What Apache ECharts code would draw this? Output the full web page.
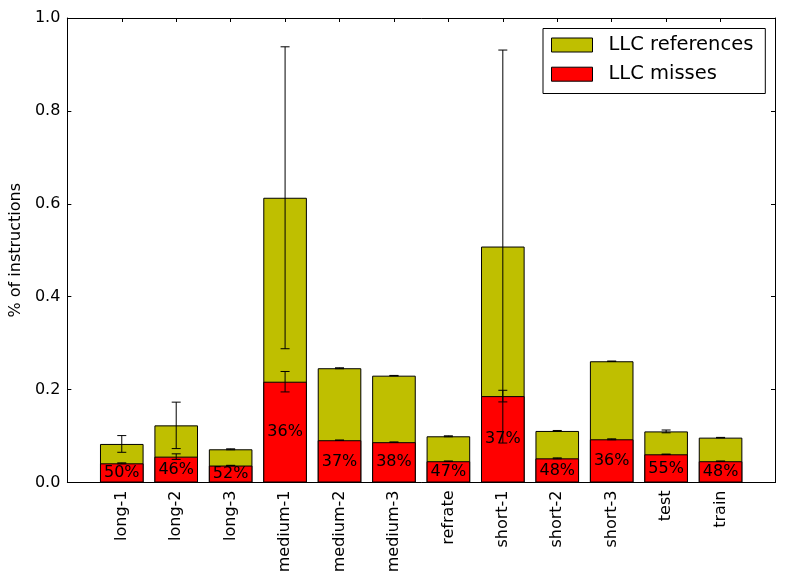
<!DOCTYPE html>
<html>
<head>
<meta charset="utf-8">
<script src="https://cdn.jsdelivr.net/npm/echarts@6/dist/echarts.min.js"></script>
<style>html,body{margin:0;padding:0;background:#fff;}#c{width:785px;height:583px;}</style>
</head>
<body>
<div id="c"></div>
<script>
const categories = ['long-1','long-2','long-3','medium-1','medium-2','medium-3','refrate','short-1','short-2','short-3','test','train'];
const refs = [0.083, 0.123, 0.0715, 0.613, 0.246, 0.230, 0.0995, 0.508, 0.111, 0.261, 0.110, 0.0966];
const refsErr = [0.018, 0.050, 0.001, 0.325, 0.001, 0.0005, 0.001, 0.423, 0.001, 0.0005, 0.003, 0.0005];
const misses = [0.0413, 0.0557, 0.0365, 0.217, 0.091, 0.0868, 0.0458, 0.186, 0.052, 0.093, 0.0607, 0.0458];
const missesErr = [0.001, 0.006, 0.0005, 0.022, 0.0005, 0.0005, 0.0005, 0.0125, 0.001, 0.001, 0.0005, 0.0005];
const pctLabels = ['50%','46%','52%','36%','37%','38%','47%','37%','48%','36%','55%','48%'];
const yTicks = [0, 0.2, 0.4, 0.6, 0.8, 1.0];

const FONT = 'DejaVu Sans';
const chart = echarts.init(document.getElementById('c'), null, {renderer: 'canvas'});

function errItem(params, api) {
  const x = api.value(0), v = api.value(1), e = api.value(2);
  const top = api.coord([x, v + e]);
  const bot = api.coord([x, v - e]);
  const hw = 4.5;
  const st = {stroke: '#000', lineWidth: 1};
  return {
    type: 'group',
    children: [
      {type: 'line', shape: {x1: top[0], y1: top[1], x2: bot[0], y2: bot[1]}, style: st},
      {type: 'line', shape: {x1: top[0] - hw, y1: top[1], x2: top[0] + hw, y2: top[1]}, style: st},
      {type: 'line', shape: {x1: bot[0] - hw, y1: bot[1], x2: bot[0] + hw, y2: bot[1]}, style: st}
    ]
  };
}

const axisCommon = {
  axisLine: {show: true, onZero: false, lineStyle: {color: '#000', width: 1}},
  axisTick: {show: true, inside: true, length: 4, lineStyle: {color: '#000'}},
  splitLine: {show: false}
};

const option = {
  backgroundColor: '#fff',
  animation: false,
  grid: {left: 67, right: 10, top: 18, bottom: 100.5, containLabel: false},
  legend: {
    orient: 'vertical',
    left: 543, top: 28.5,
    padding: [6.5, 12, 9.3, 8],
    itemWidth: 41, itemHeight: 14, itemGap: 9.2,
    borderColor: '#000', borderWidth: 1,
    icon: 'rect',
    itemStyle: {borderColor: '#000', borderWidth: 1},
    textStyle: {fontFamily: FONT, fontSize: 19.5, color: '#000', padding: [0, 0, 0, 11]},
    data: ['LLC references', 'LLC misses']
  },
  xAxis: [
    Object.assign({
      type: 'value', position: 'bottom', min: -1, max: 12, interval: 1,
      axisLabel: {
        rotate: 90, margin: 8, fontFamily: FONT, fontSize: 16, color: '#000',
        formatter: v => (v >= 0 && v < categories.length) ? categories[v] : ''
      }
    }, axisCommon),
    Object.assign({
      type: 'value', position: 'top', min: -1, max: 12, interval: 1,
      axisLabel: {show: false}
    }, axisCommon)
  ],
  yAxis: [
    Object.assign({
      type: 'value', position: 'left', min: 0, max: 1, interval: 0.2,
      name: '% of instructions', nameLocation: 'middle', nameGap: 43,
      nameTextStyle: {fontFamily: FONT, fontSize: 16, color: '#000'},
      axisLabel: {margin: 7, fontFamily: FONT, fontSize: 16, color: '#000', formatter: v => v.toFixed(1)}
    }, axisCommon),
    Object.assign({
      type: 'value', position: 'right', min: 0, max: 1, interval: 0.2,
      axisLabel: {show: false}
    }, axisCommon)
  ],
  series: [
    {
      name: 'LLC references', type: 'bar', xAxisIndex: 0, yAxisIndex: 0,
      barWidth: 43.6, barGap: '-100%', z: 2,
      itemStyle: {color: '#bfbf00', borderColor: '#000', borderWidth: 1},
      data: refs.map((v, i) => [i, v])
    },
    {
      name: 'LLC misses', type: 'bar', xAxisIndex: 0, yAxisIndex: 0,
      barWidth: 43.6, barGap: '-100%', z: 3,
      itemStyle: {color: '#ff0000', borderColor: '#000', borderWidth: 1},
      label: {
        show: true, position: 'inside', color: '#000', fontFamily: FONT, fontSize: 16,
        formatter: p => pctLabels[p.dataIndex]
      },
      data: misses.map((v, i) => [i, v])
    },
    {
      type: 'custom', xAxisIndex: 0, yAxisIndex: 0, z: 4, silent: true,
      renderItem: errItem, encode: {x: 0, y: 1},
      data: refs.map((v, i) => [i, v, refsErr[i]])
    },
    {
      type: 'custom', xAxisIndex: 0, yAxisIndex: 0, z: 4, silent: true,
      renderItem: errItem, encode: {x: 0, y: 1},
      data: misses.map((v, i) => [i, v, missesErr[i]])
    }
  ]
};
chart.setOption(option);
</script>
</body>
</html>
